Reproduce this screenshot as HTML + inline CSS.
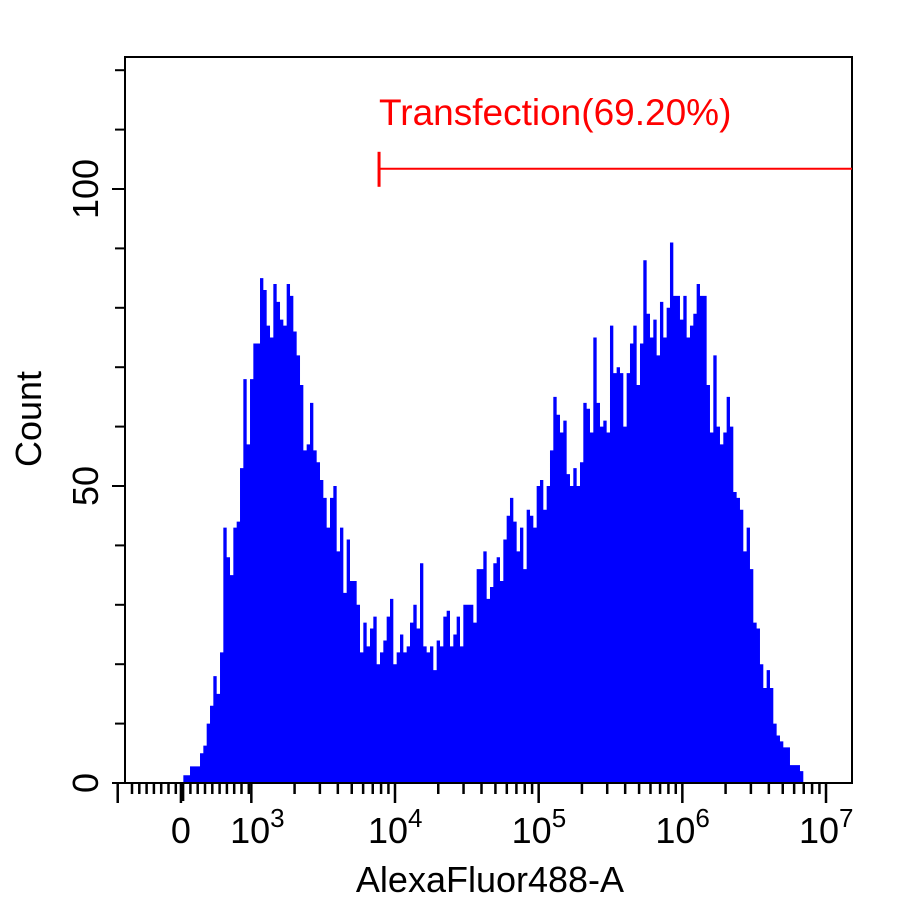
<!DOCTYPE html>
<html><head><meta charset="utf-8"><style>
html,body{margin:0;padding:0;background:#fff;}
svg{display:block;font-family:"Liberation Sans",Arial,sans-serif;}
</style></head><body>
<svg id="chart" width="900" height="900" viewBox="0 0 900 900" xmlns="http://www.w3.org/2000/svg">
<g id="plot"></g>
</svg>
<script>
// Histogram counts per bin (bins in display/decade units)
const binStart = 2.434;
const binStep = 0.0232;
const counts = [
0,0,0,0,1.3,1.3,2.8,2.8,2.8,5,6.3,10,13,18,15,22,43,38,35,43,44,53,68,57,68,74,74,85,83,77,75,84,81,78,77,84,82,76,72,67,56,57,64,56,54,51,48,43,48,50,39,43,32,41,34,34,30,22,27,23,26,28,20,22,24,28,31,20,22,25,22,23,27,30,26,37,23,22,23,19,24,23,28,29,23,25,28,23,30,30,
30,27,36,36,39,31,33,37,38,34,41,45,48,44,39,43,36,46,45,43,50,51,46,50,56,65,62,59,61,52,50,53,50,54,64,63,59,75,64,60,61,59,77,69,70,69,60,69,74,77,67,74,88,79,75,78,72,81,75,80,91,82,82,78,82,75,77,79,84,82,82,67,59,72,60,57,59,65,60,49,48,46,39,43,36,27,26,20,16,19,16,10,8,7,6,6,3,3,3,2
];
const yTicks = [0,10,20,30,40,50,60,70,80,90,100,110,120];
const yLabels = [0,50,100];
const xLabelPos = [2.51,3.04,4,5,6,7];
const xLabelText = ["0","10|3","10|4","10|5","10|6","10|7"];
const decadeTicks = [3,4,5,6,7];
const gateStart = 3.889;
const gateLevel = 103.4;
const gateText = "Transfection(69.20%)";

const L=125,R=852,T=57,B=783;
function xs(d){return 395+(d-4)*143.67;}
function ys(c){return B-c*5.94;}
const NS="http://www.w3.org/2000/svg";
const svg=document.getElementById('chart');
function mk(tag,attrs,parent){const e=document.createElementNS(NS,tag);for(const k in attrs)e.setAttribute(k,attrs[k]);(parent||svg).appendChild(e);return e;}

// histogram
let d="M"+xs(binStart)+","+B;
counts.forEach((c,i)=>{const x0=xs(binStart+i*binStep),x1=xs(binStart+(i+1)*binStep);d+=" L"+x0.toFixed(2)+","+ys(c).toFixed(2)+" L"+x1.toFixed(2)+","+ys(c).toFixed(2);});
d+=" L"+xs(binStart+counts.length*binStep)+","+B+" Z";
const hist=mk('path',{d:d,fill:'#0000ff',stroke:'none'});



// frame
const fr=mk('rect',{x:L,y:T,width:R-L,height:B-T,fill:'none',stroke:'#000','stroke-width':2});



// y ticks
yTicks.forEach(v=>{const major=v%50===0;const t=mk('line',{x1:L,x2:L-(major?13:10),y1:ys(v),y2:ys(v),stroke:'#000','stroke-width':2});

});
yLabels.forEach(v=>{const t=mk('text',{x:0,y:0,'font-size':36,'text-anchor':'middle',transform:`translate(98,${ys(v)}) rotate(-90)`});t.textContent=v;

});

// x ticks
function xt(d,len){const t=mk('line',{x1:xs(d),x2:xs(d),y1:B,y2:B+len,stroke:'#000','stroke-width':2.5});

}
for(let x=132;x<250;x+=7.3){xt(4+(x-395)/143.67,(Math.abs(x-181)<4)?18:11);}
xt(2.51,20);xt(2.07,20);
decadeTicks.forEach(dd=>{xt(dd,20);if(dd<7)for(let k=2;k<=9;k++)xt(dd+Math.log10(k),11);});
xLabelPos.forEach((p,i)=>{const parts=xLabelText[i].split('|');const t=mk('text',{x:xs(p),y:843,'font-size':36,'text-anchor':'middle'});


t.appendChild(document.createTextNode(parts[0]));
if(parts[1]){const s=mk('tspan',{dy:-16,'font-size':26},t);s.textContent=parts[1];}
if(parts[1]){t.setAttribute('text-anchor','start');t.setAttribute('x',xs(p)-27);}});

// axis titles
const xt1=mk('text',{x:490,y:892,'font-size':36,'text-anchor':'middle'});xt1.textContent='AlexaFluor488-A';


const yt1=mk('text',{x:0,y:0,'font-size':36,'text-anchor':'middle',transform:'translate(41,419) rotate(-90)'});yt1.textContent='Count';



// gate
const g1=mk('line',{x1:xs(gateStart),x2:R,y1:ys(gateLevel),y2:ys(gateLevel),stroke:'#ff0000','stroke-width':2});


const g2=mk('line',{x1:xs(gateStart),x2:xs(gateStart),y1:ys(gateLevel)-17,y2:ys(gateLevel)+18,stroke:'#ff0000','stroke-width':3});


const gt=mk('text',{x:xs(gateStart),y:125,'font-size':37,fill:'#ff0000'});gt.textContent=gateText;


</script>
</body></html>
